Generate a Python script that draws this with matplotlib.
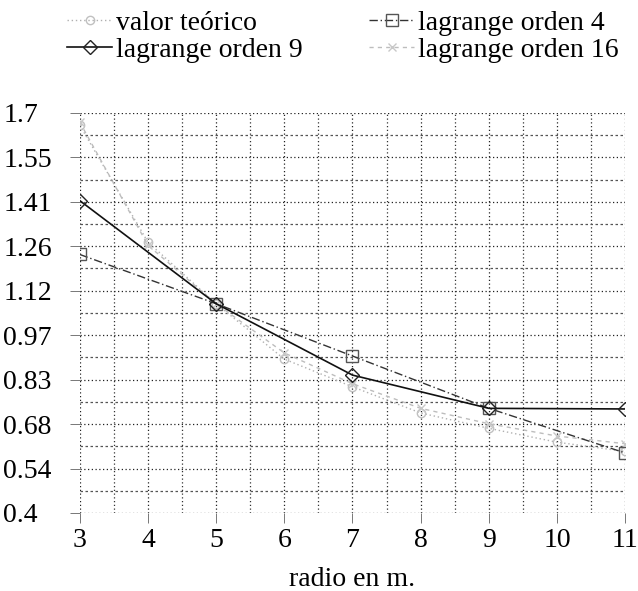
import matplotlib
matplotlib.use("Agg")
import matplotlib.pyplot as plt
import numpy as np

# radios (m) y valores
radio = [3, 4, 5, 6, 7, 8, 9, 10, 11]
valor_teorico = [1.66, 1.28, 1.08, 0.90, 0.81, 0.725, 0.675, 0.63, 0.60]
lag16 = [1.67, 1.27, 1.08, 0.92, 0.82, 0.74, 0.69, 0.65, 0.625]

radio_4 = [3, 5, 7, 9, 11]
lag4 = [1.24, 1.08, 0.91, 0.74, 0.595]

radio_9 = [3, 5, 7, 9, 11]
lag9 = [1.415, 1.08, 0.848, 0.74, 0.738]

yticks = [0.4 + k * 1.3 / 9 for k in range(10)]
ytick_labels = ["0.4", "0.54", "0.68", "0.83", "0.97", "1.12", "1.26", "1.41", "1.55", "1.7"]
xticks = [3, 4, 5, 6, 7, 8, 9, 10, 11]

plt.rcParams['font.family'] = ['Liberation Serif', 'DejaVu Serif']
FS = 20

fig = plt.figure(figsize=(6.38, 5.91), dpi=100)
ax = fig.add_axes([0.125, 0.132, 0.855, 0.677])

l_teo, = ax.plot(radio, valor_teorico, color="#b0b0b0", linestyle=(0, (1, 2)), lw=1.0,
                 marker="o", markersize=6, markerfacecolor="none", markeredgecolor="#c0c0c0",
                 label="valor teórico", zorder=3)
l4, = ax.plot(radio_4, lag4, color="#333333", linestyle=(0, (6, 2, 1, 2)), lw=1.0,
              marker="s", markersize=8, markerfacecolor="none", markeredgecolor="#555555",
              label="lagrange orden 4", zorder=4)
l9, = ax.plot(radio_9, lag9, color="#111111", linestyle="-", lw=1.2,
              marker="D", markersize=7, markerfacecolor="none", markeredgecolor="#222222",
              label="lagrange orden 9", zorder=5)
l16, = ax.plot(radio, lag16, color="#bdbdbd", linestyle=(0, (3, 3)), lw=1.0,
               marker="x", markersize=6, markeredgecolor="#c8c8c8",
               label="lagrange orden 16", zorder=3)

ax.set_xlim(3, 11)
ax.set_ylim(0.4, 1.7)
ax.set_xticks(xticks)
ax.set_xticklabels([str(x) for x in xticks])
ax.set_yticks(yticks)
ax.set_yticklabels(ytick_labels, ha="left")
ax.set_xticks(np.arange(3.5, 11, 1.0), minor=True)
ax.set_yticks([yticks[i] + 1.3 / 18 for i in range(9)], minor=True)

for s in ax.spines.values():
    s.set_visible(False)

ax.grid(which="major", color="#222222", linestyle=(0, (1, 2)), lw=0.9)
ax.grid(which="minor", axis="x", color="#333333", linestyle=(0, (1, 2)), lw=0.9)
ax.grid(which="minor", axis="y", color="#555555", linestyle=(0, (2, 2)), lw=0.9)
ax.tick_params(which="major", length=7, width=0.7, color="#777777", labelsize=FS)
ax.tick_params(axis="y", which="major", pad=48)
ax.tick_params(axis="x", which="major", pad=4)
ax.tick_params(which="minor", length=0)
ax.set_axisbelow(True)

ax.set_xlabel("radio en m.", fontsize=FS, labelpad=10)

# orden de la leyenda por columnas: (teorico, orden 9) | (orden 4, orden 16)
fig.legend([l_teo, l9, l4, l16],
           ["valor teórico", "lagrange orden 9", "lagrange orden 4", "lagrange orden 16"],
           loc="upper left", bbox_to_anchor=(0.075, 1.015), ncol=2, frameon=False,
           fontsize=FS, handlelength=1.6, columnspacing=2.4, labelspacing=0.05,
           handletextpad=0.15, borderpad=0.2)

fig.savefig("out.png", dpi=100)
